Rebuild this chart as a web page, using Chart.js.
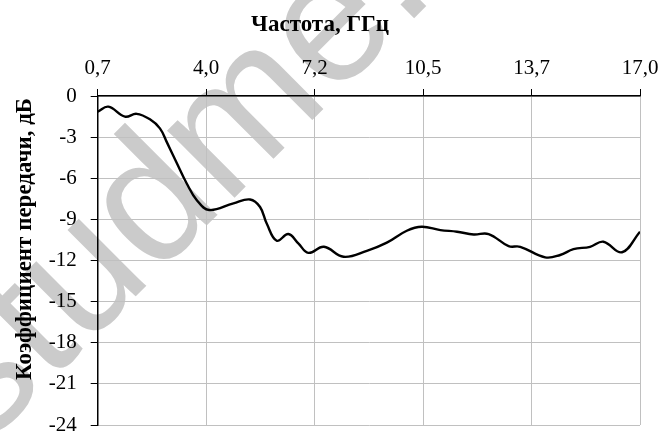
<!DOCTYPE html>
<html>
<head>
<meta charset="utf-8">
<script src="https://cdn.jsdelivr.net/npm/chart.js@4"></script>
<style>
  html, body { margin: 0; padding: 0; background: #fff; }
  #wrap { width: 662px; height: 433px; }
</style>
</head>
<body>
<div id="wrap"><canvas id="graf" width="662" height="433"></canvas></div>
<script>
// Частота, ГГц / коэффициент передачи, дБ
const frecuencia = [0.7, 1.02, 1.52, 1.87, 2.27, 2.57, 2.77, 3.08, 3.38, 3.68, 4.05, 4.78, 5.28, 5.58, 5.78, 6.08, 6.43, 6.73, 7.03, 7.5, 8.09, 8.79, 9.39, 9.99, 10.44, 11.0, 11.5, 12.0, 12.45, 13.05, 13.4, 14.15, 14.6, 15.0, 15.5, 15.9, 16.46, 17.0];
const ganancia = [-1.15, -0.78, -1.5, -1.3, -1.7, -2.36, -3.33, -4.9, -6.4, -7.6, -8.32, -7.83, -7.55, -8.1, -9.3, -10.56, -10.07, -10.75, -11.44, -11.0, -11.73, -11.3, -10.7, -9.83, -9.54, -9.78, -9.9, -10.1, -10.07, -10.95, -11.0, -11.77, -11.6, -11.17, -11.0, -10.63, -11.4, -9.9];

const xTicks = [0.7, 3.96, 7.22, 10.48, 13.74, 17.0];
const xTickLabels = ['0,7', '4,0', '7,2', '10,5', '13,7', '17,0'];
const yTicks = [0, -3, -6, -9, -12, -15, -18, -21, -24];

const tituloX = 'Частота, ГГц';
const tituloY = 'Коэффициент передачи, дБ';
const marcaAgua = 'studme.org';

const serif = "'Liberation Serif', 'Times New Roman', serif";

// marca de agua gris debajo de todo
const pluginMarca = {
    id: 'marca',
    beforeDraw(chart) {
        const ctx = chart.ctx;
        ctx.save();
        ctx.translate(-50, 412);
        ctx.rotate(-45 * Math.PI / 180);
        ctx.font = "180px 'Liberation Sans', Arial, sans-serif";
        ctx.fillStyle = '#cbcbcb';
        ctx.textAlign = 'left';
        ctx.textBaseline = 'middle';
        ctx.fillText(marcaAgua, 0, 0);
        ctx.restore();
    }
};

// titulo del eje Y dibujado a mano (no esta centrado en el eje)
const pluginTituloY = {
    id: 'tituloY',
    afterDraw(chart) {
        const ctx = chart.ctx;
        ctx.save();
        ctx.translate(25, 239);
        ctx.rotate(-Math.PI / 2);
        ctx.font = "bold 23px " + serif;
        ctx.fillStyle = '#000';
        ctx.textAlign = 'center';
        ctx.textBaseline = 'middle';
        ctx.fillText(tituloY, 0, 0);
        ctx.restore();
    }
};

function sinPadding(scale) {
    scale.paddingLeft = 0;
    scale.paddingRight = 0;
    scale.paddingTop = 0;
    scale.paddingBottom = 0;
}

const ctx = document.getElementById('graf').getContext('2d');
new Chart(ctx, {
    type: 'line',
    data: {
        datasets: [{
            data: frecuencia.map((x, i) => ({ x: x, y: ganancia[i] })),
            borderColor: '#000',
            borderWidth: 2.4,
            pointRadius: 0,
            fill: false,
            tension: 0.4
        }]
    },
    options: {
        responsive: false,
        animation: false,
        devicePixelRatio: 1,
        layout: { padding: { left: 0, right: 22, top: 0, bottom: 8 } },
        plugins: {
            legend: { display: false },
            tooltip: { enabled: false },
            title: {
                display: true,
                text: tituloX,
                color: '#000',
                font: { family: serif, size: 23, weight: 'bold' },
                padding: { top: 11.7, bottom: 0 }
            }
        },
        scales: {
            x: {
                type: 'linear',
                position: 'top',
                min: 0.7,
                max: 17.0,
                afterBuildTicks: scale => { scale.ticks = xTicks.map(v => ({ value: v })); },
                afterFit: scale => { scale.height = 56.7; sinPadding(scale); },
                ticks: {
                    color: '#000',
                    font: { family: serif, size: 21 },
                    padding: 8,
                    maxRotation: 0,
                    callback: (v, i) => xTickLabels[i]
                },
                grid: { color: '#c0c0c0', lineWidth: 1, tickLength: 7, tickColor: '#000' },
                border: { color: '#000', width: 1.5 }
            },
            y: {
                min: -24,
                max: 0,
                afterBuildTicks: scale => { scale.ticks = yTicks.map(v => ({ value: v })); },
                afterFit: scale => { scale.width = 97.7; sinPadding(scale); },
                ticks: {
                    color: '#000',
                    font: { family: serif, size: 21 },
                    padding: 14,
                    callback: v => String(v)
                },
                grid: { color: '#c0c0c0', lineWidth: 1, tickLength: 7, tickColor: '#000' },
                border: { color: '#000', width: 1.5 }
            }
        }
    },
    plugins: [pluginMarca, pluginTituloY]
});
</script>
</body>
</html>
